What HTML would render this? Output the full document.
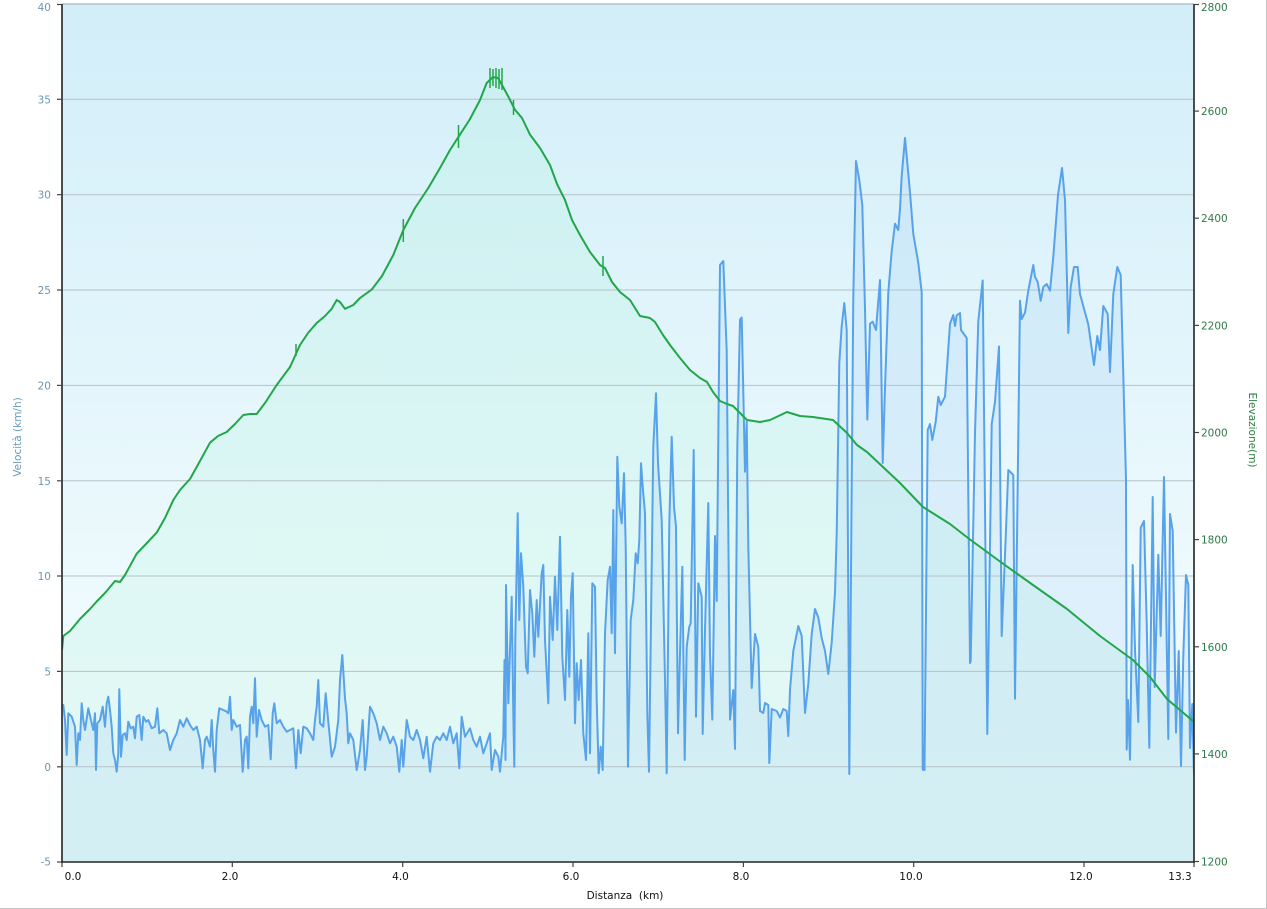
<!DOCTYPE html>
<html><head><meta charset="utf-8"><style>
html,body{margin:0;padding:0;background:#fff;}
svg{display:block;}
text{font-family:"DejaVu Sans","Liberation Sans",sans-serif;}
</style></head><body>
<svg width="1267" height="909" viewBox="0 0 1267 909" xmlns="http://www.w3.org/2000/svg">
<defs>
<linearGradient id="bg" x1="0" y1="0" x2="0" y2="1">
<stop offset="0" stop-color="#d2eef9"/>
<stop offset="0.7" stop-color="#eefafd"/>
<stop offset="1" stop-color="#f1fbfd"/>
</linearGradient>
<clipPath id="pc"><rect x="62" y="4" width="1132" height="858"/></clipPath>
</defs>
<rect x="0" y="0" width="1267" height="909" fill="#fff"/>
<rect x="62" y="4" width="1132" height="858" fill="url(#bg)"/>
<g clip-path="url(#pc)">
<!-- green fill -->
<polygon fill="rgba(150,240,200,0.15)" points="62,862 62,650 63.3,636 70,631 80,619 90,609 96.7,601.5 105,593 115,581 120,582 125,575 136.7,553.7 145,545 156.7,532.6 165,518 173.3,500 180,490 190,479 200,461 210,442.7 218,436 226.7,432 235,424 243.3,415 250,414 256.7,414 265,403 276.7,385 290,367 300,345 308,333 316.7,323 325,316 331.7,308.8 336.7,300 340,302 345,308.8 353.3,305 360,298 371.7,289.6 382,276 393.3,255 403.3,230 415,208 428.3,188 440,168 450,150 460,134.6 470,119 480,100 486.7,83 493,77 498,78 503,86.8 508,96 515,109.8 522,118 530,134.6 540,148 550,165 557,184 565,200 572,220 580,235 590,252 600,265 605,268 612,282 620,292 630,300 640,316 650,318 655,322 663,335 670,345 680,358 690,370 700,378 707,382 713,392 720,401 727,404 733,406 740,413 747,420 760,422 770,420 787,412 800,416 813,417 833,420 847,433 857,445 867,452 883,467 900,483 923,507 950,524 970,539.5 1000,561.5 1033,585 1067,609 1100,636 1133,660 1150,677 1167,699 1180,710 1194,722 1194,862"/>
<!-- blue fill -->
<polygon fill="rgba(91,163,234,0.11)" points="62,862 62,705 63.3,705 65,720 66.7,755 68.3,713.3 71.7,716.7 75,726.7 76.7,765 78.3,733.3 80,740 81.7,703.3 83.3,720 85,730 88.3,708.3 91.7,723.3 93.3,730 95,713.3 96,770 97.3,723.3 100,720 102.7,706.7 105,726.7 106.7,703.3 108.3,696.7 110,710 111.7,726.7 113.3,753.3 115,760 116.7,771.7 118.3,753.3 119.3,689.3 121,756.7 122.7,735 125,733.3 126.7,740 128.3,721.7 130.7,728.3 133.3,726.7 135,738.3 136.7,716.7 139.3,715 141.7,740 143.3,716.7 146,721.7 148.3,720 151.7,728.3 155,726.7 157.3,708.3 159.3,733.3 163.3,730 166.7,733.3 170,750 173.3,740 176.7,733.3 180,720 183.3,726.7 186.7,718.3 190,725 193.3,730 196.7,726.7 200,740 202.7,768.3 205,740 206.7,736.7 210,746.7 211.7,720 213.3,750 215,771.7 216.7,730 219.3,708.3 223.3,710 226.7,711.7 228.3,713.3 230,696.7 231.7,730 233.3,720 236.7,726.7 240,725 242.7,771.7 245,740 246.7,736.7 248.3,768.3 250,716.7 251.7,706.7 253.3,723.3 255,678.3 256.7,736.7 259,710 261.7,720 265,726.7 268.3,725 270.7,759.3 272.7,713.3 274.3,703.3 276.7,723.3 280,720 283.3,726.7 286.7,731.7 290,730 293.3,728.3 296,768.3 298.3,730 300.7,753.3 303.3,726.7 306.7,728.3 310,733.3 313.3,740 315,720 316.7,706.7 318.3,680 320,723.3 323.3,726.7 325.7,693.3 328.3,721.7 331.7,756.7 335,746.7 338.3,720 340,680 342.3,655 345,698.3 346.7,713.3 348.3,743.3 350,733.3 353.3,740 356.7,770 360,750 362.7,720 365,770 366.7,756.7 370,706.7 373.3,713.3 376.7,723.3 380,740 383.3,726.7 386.7,733.3 390,743.3 393.3,736.7 396.7,746.7 399.3,771.7 401.7,740 403.3,766.7 406.7,720 410,736.7 413.3,740 416.7,730 420,740 423.3,758.3 426.7,736.7 430,771.7 433.3,743.3 436.7,736.7 440,740 443.3,733.3 446.7,740 450,726.7 453.3,743.3 456.7,733.3 459.3,768.3 461.7,716.7 465,736.7 470,728.3 473.3,740 476.7,746.7 480,736.7 483.3,753.3 486.7,743.3 490,733.3 491.7,770 495,750 498.3,756.7 500,771.7 503.3,736.7 504.5,660 505.5,760 506,585 508.3,703.3 511.7,596.7 513.3,713.3 514.3,766.7 515.3,640 517.7,513.3 519.3,620 521,553.3 523.3,586.7 526,666.7 527.7,673.3 530,590 532.3,613.3 534.3,656.7 536.7,600 538.3,636.7 541.7,573.3 543.3,565 545,640 548.3,703.3 550,596.7 552.7,640 555,576.7 557.3,630 560,536.7 562.3,656.7 565,700 567.3,610 569.3,676.7 571,596.7 572.7,573.3 575,723.3 576.7,663.3 578.7,700 581,660 583.3,733.3 586,760 588.3,633.3 590,753.3 592.3,583.3 595,586.7 596.7,700 598.7,773.3 600.7,746.7 602.7,770 605,633.3 607.7,580 610,566.7 611.7,633.3 613.3,510 615,653.3 617.3,456.7 619.3,506.7 621.7,523.3 624,473.3 625.7,546.7 628,766.7 630.7,620 633.3,600 635.7,553.3 637.7,563.3 639.3,540 641,463.3 642.7,486.7 645,513.3 647.3,713.3 649,771.7 653.3,446.7 656,393.3 658,463.3 661.7,520 665,680 666.7,773.3 669.3,523.3 671.7,436.7 674,506.7 676,526.7 678,733.3 680,653.3 682.3,566.7 684.7,760 686.7,646.7 689.3,626.7 690.7,623.3 693.7,450 696,716.7 698.3,583.3 701.7,596.7 702.7,734 705,630 708.3,503 710,655 712.3,719.6 715,536 716.7,601 720,265 723.3,261 726.7,351 730,719.6 733.3,690 735,749 737.3,447 740,319.6 741.7,317.5 745,471.7 746.7,421.7 748.3,546.7 751.7,688 755,634 758.3,646.7 760,711 763.3,713 765,703 768.3,705 769.3,763 771.7,709 776.7,711 780,717.5 783.3,709 786.7,711 788.3,736 790,690 793.3,651 798.3,626 801.7,636 805,713 808.3,684 811.7,634 815,609 818.3,617.5 821.7,638 825,651 828.3,674 831.7,642.5 835,592.5 836.7,534 839.3,363 841.7,326 844.3,303 846.7,330 849.3,774 853.3,296.7 856,161 859.3,180 862.3,205 865,309 867.3,419.6 870,323.75 872.7,321.7 876,330 880,280 882.7,463 885,388 888.3,292.5 891.7,251 895,223.75 898.3,230 900,209 901.7,176 905,138 910,192.5 913.3,234 918.3,263 921.7,292.5 922.7,769.6 924.5,770 927.7,430 930,424 932.3,440 935.7,421.7 938.3,396.7 940.7,405 945,396.7 947.3,363 950,323.75 953.3,315 955,326 956.7,315.4 960,313 961,330 966.7,338 970,663 970.7,661 975,433 978.3,321 982.7,280.5 987.3,734 991.7,424 995,402 999,346.5 1001.7,636 1005,555 1008.3,470 1013.3,475 1015,698.7 1020,300.8 1021.7,319 1025,312.6 1028.3,290.6 1033.3,265 1035,277 1037.7,282 1040.7,300.8 1043.3,287 1046.7,284 1050,290.6 1053.3,256.8 1058,195 1062,168 1065,200 1068.3,333 1070.7,287 1074,267 1077.7,267 1080,294 1088.3,324.5 1094,365 1097.3,336 1100,350 1103.3,306 1107.7,314 1110,372 1113.3,294 1117.3,267 1120.7,275 1126,480 1126.7,749.5 1128,700 1130,759.7 1132.7,565 1135,649.6 1138.3,722 1140.7,527.7 1144,521 1146.7,622.5 1149.3,747.8 1152.7,497 1154.7,687 1158.3,554.8 1160.7,636 1164,477 1168.3,739 1170,514 1172.7,531 1176,732.6 1178.7,651 1181,766 1183.3,656 1186,575 1188.3,585 1190,748 1192.3,704 1194,775 1194,862"/>
<!-- gridlines -->
<g stroke="#b5c3c6" stroke-width="1">
<line x1="62" y1="99.3" x2="1194" y2="99.3"/>
<line x1="62" y1="194.7" x2="1194" y2="194.7"/>
<line x1="62" y1="290" x2="1194" y2="290"/>
<line x1="62" y1="385.4" x2="1194" y2="385.4"/>
<line x1="62" y1="480.8" x2="1194" y2="480.8"/>
<line x1="62" y1="576" x2="1194" y2="576"/>
<line x1="62" y1="671.4" x2="1194" y2="671.4"/>
<line x1="62" y1="766.8" x2="1194" y2="766.8"/>
</g>
<!-- blue line -->
<polyline fill="none" stroke="#58a2ea" stroke-width="2" stroke-linejoin="round" points="62,705 63.3,705 65,720 66.7,755 68.3,713.3 71.7,716.7 75,726.7 76.7,765 78.3,733.3 80,740 81.7,703.3 83.3,720 85,730 88.3,708.3 91.7,723.3 93.3,730 95,713.3 96,770 97.3,723.3 100,720 102.7,706.7 105,726.7 106.7,703.3 108.3,696.7 110,710 111.7,726.7 113.3,753.3 115,760 116.7,771.7 118.3,753.3 119.3,689.3 121,756.7 122.7,735 125,733.3 126.7,740 128.3,721.7 130.7,728.3 133.3,726.7 135,738.3 136.7,716.7 139.3,715 141.7,740 143.3,716.7 146,721.7 148.3,720 151.7,728.3 155,726.7 157.3,708.3 159.3,733.3 163.3,730 166.7,733.3 170,750 173.3,740 176.7,733.3 180,720 183.3,726.7 186.7,718.3 190,725 193.3,730 196.7,726.7 200,740 202.7,768.3 205,740 206.7,736.7 210,746.7 211.7,720 213.3,750 215,771.7 216.7,730 219.3,708.3 223.3,710 226.7,711.7 228.3,713.3 230,696.7 231.7,730 233.3,720 236.7,726.7 240,725 242.7,771.7 245,740 246.7,736.7 248.3,768.3 250,716.7 251.7,706.7 253.3,723.3 255,678.3 256.7,736.7 259,710 261.7,720 265,726.7 268.3,725 270.7,759.3 272.7,713.3 274.3,703.3 276.7,723.3 280,720 283.3,726.7 286.7,731.7 290,730 293.3,728.3 296,768.3 298.3,730 300.7,753.3 303.3,726.7 306.7,728.3 310,733.3 313.3,740 315,720 316.7,706.7 318.3,680 320,723.3 323.3,726.7 325.7,693.3 328.3,721.7 331.7,756.7 335,746.7 338.3,720 340,680 342.3,655 345,698.3 346.7,713.3 348.3,743.3 350,733.3 353.3,740 356.7,770 360,750 362.7,720 365,770 366.7,756.7 370,706.7 373.3,713.3 376.7,723.3 380,740 383.3,726.7 386.7,733.3 390,743.3 393.3,736.7 396.7,746.7 399.3,771.7 401.7,740 403.3,766.7 406.7,720 410,736.7 413.3,740 416.7,730 420,740 423.3,758.3 426.7,736.7 430,771.7 433.3,743.3 436.7,736.7 440,740 443.3,733.3 446.7,740 450,726.7 453.3,743.3 456.7,733.3 459.3,768.3 461.7,716.7 465,736.7 470,728.3 473.3,740 476.7,746.7 480,736.7 483.3,753.3 486.7,743.3 490,733.3 491.7,770 495,750 498.3,756.7 500,771.7 503.3,736.7 504.5,660 505.5,760 506,585 508.3,703.3 511.7,596.7 513.3,713.3 514.3,766.7 515.3,640 517.7,513.3 519.3,620 521,553.3 523.3,586.7 526,666.7 527.7,673.3 530,590 532.3,613.3 534.3,656.7 536.7,600 538.3,636.7 541.7,573.3 543.3,565 545,640 548.3,703.3 550,596.7 552.7,640 555,576.7 557.3,630 560,536.7 562.3,656.7 565,700 567.3,610 569.3,676.7 571,596.7 572.7,573.3 575,723.3 576.7,663.3 578.7,700 581,660 583.3,733.3 586,760 588.3,633.3 590,753.3 592.3,583.3 595,586.7 596.7,700 598.7,773.3 600.7,746.7 602.7,770 605,633.3 607.7,580 610,566.7 611.7,633.3 613.3,510 615,653.3 617.3,456.7 619.3,506.7 621.7,523.3 624,473.3 625.7,546.7 628,766.7 630.7,620 633.3,600 635.7,553.3 637.7,563.3 639.3,540 641,463.3 642.7,486.7 645,513.3 647.3,713.3 649,771.7 653.3,446.7 656,393.3 658,463.3 661.7,520 665,680 666.7,773.3 669.3,523.3 671.7,436.7 674,506.7 676,526.7 678,733.3 680,653.3 682.3,566.7 684.7,760 686.7,646.7 689.3,626.7 690.7,623.3 693.7,450 696,716.7 698.3,583.3 701.7,596.7 702.7,734 705,630 708.3,503 710,655 712.3,719.6 715,536 716.7,601 720,265 723.3,261 726.7,351 730,719.6 733.3,690 735,749 737.3,447 740,319.6 741.7,317.5 745,471.7 746.7,421.7 748.3,546.7 751.7,688 755,634 758.3,646.7 760,711 763.3,713 765,703 768.3,705 769.3,763 771.7,709 776.7,711 780,717.5 783.3,709 786.7,711 788.3,736 790,690 793.3,651 798.3,626 801.7,636 805,713 808.3,684 811.7,634 815,609 818.3,617.5 821.7,638 825,651 828.3,674 831.7,642.5 835,592.5 836.7,534 839.3,363 841.7,326 844.3,303 846.7,330 849.3,774 853.3,296.7 856,161 859.3,180 862.3,205 865,309 867.3,419.6 870,323.75 872.7,321.7 876,330 880,280 882.7,463 885,388 888.3,292.5 891.7,251 895,223.75 898.3,230 900,209 901.7,176 905,138 910,192.5 913.3,234 918.3,263 921.7,292.5 922.7,769.6 924.5,770 927.7,430 930,424 932.3,440 935.7,421.7 938.3,396.7 940.7,405 945,396.7 947.3,363 950,323.75 953.3,315 955,326 956.7,315.4 960,313 961,330 966.7,338 970,663 970.7,661 975,433 978.3,321 982.7,280.5 987.3,734 991.7,424 995,402 999,346.5 1001.7,636 1005,555 1008.3,470 1013.3,475 1015,698.7 1020,300.8 1021.7,319 1025,312.6 1028.3,290.6 1033.3,265 1035,277 1037.7,282 1040.7,300.8 1043.3,287 1046.7,284 1050,290.6 1053.3,256.8 1058,195 1062,168 1065,200 1068.3,333 1070.7,287 1074,267 1077.7,267 1080,294 1088.3,324.5 1094,365 1097.3,336 1100,350 1103.3,306 1107.7,314 1110,372 1113.3,294 1117.3,267 1120.7,275 1126,480 1126.7,749.5 1128,700 1130,759.7 1132.7,565 1135,649.6 1138.3,722 1140.7,527.7 1144,521 1146.7,622.5 1149.3,747.8 1152.7,497 1154.7,687 1158.3,554.8 1160.7,636 1164,477 1168.3,739 1170,514 1172.7,531 1176,732.6 1178.7,651 1181,766 1183.3,656 1186,575 1188.3,585 1190,748 1192.3,704 1194,775"/>
<!-- green line -->
<polyline fill="none" stroke="#22a64a" stroke-width="2" stroke-linejoin="round" points="62,650 63.3,636 70,631 80,619 90,609 96.7,601.5 105,593 115,581 120,582 125,575 136.7,553.7 145,545 156.7,532.6 165,518 173.3,500 180,490 190,479 200,461 210,442.7 218,436 226.7,432 235,424 243.3,415 250,414 256.7,414 265,403 276.7,385 290,367 300,345 308,333 316.7,323 325,316 331.7,308.8 336.7,300 340,302 345,308.8 353.3,305 360,298 371.7,289.6 382,276 393.3,255 403.3,230 415,208 428.3,188 440,168 450,150 460,134.6 470,119 480,100 486.7,83 493,77 498,78 503,86.8 508,96 515,109.8 522,118 530,134.6 540,148 550,165 557,184 565,200 572,220 580,235 590,252 600,265 605,268 612,282 620,292 630,300 640,316 650,318 655,322 663,335 670,345 680,358 690,370 700,378 707,382 713,392 720,401 727,404 733,406 740,413 747,420 760,422 770,420 787,412 800,416 813,417 833,420 847,433 857,445 867,452 883,467 900,483 923,507 950,524 970,539.5 1000,561.5 1033,585 1067,609 1100,636 1133,660 1150,677 1167,699 1180,710 1194,722"/>
<g stroke="#22a64a" stroke-width="1.5">
<line x1="403.3" y1="219" x2="403.3" y2="242"/>
<line x1="458.5" y1="125" x2="458.5" y2="148"/>
<line x1="490" y1="68" x2="490" y2="88"/>
<line x1="493" y1="69" x2="493" y2="86"/>
<line x1="496" y1="68" x2="496" y2="88"/>
<line x1="499" y1="69" x2="499" y2="89"/>
<line x1="502" y1="68" x2="502" y2="90"/>
<line x1="513.5" y1="100" x2="513.5" y2="115"/>
<line x1="603" y1="256" x2="603" y2="276"/>
<line x1="296" y1="344" x2="296" y2="356"/>
</g>
</g>
<!-- axes -->
<line x1="62" y1="4" x2="1194" y2="4" stroke="#a9b9c0" stroke-width="1.2"/>
<g stroke="#222" stroke-width="1.6">
<line x1="62" y1="4" x2="62" y2="863"/>
<line x1="1194" y1="4" x2="1194" y2="863"/>
<line x1="61" y1="862" x2="1195" y2="862"/>
</g>
<g stroke="#444" stroke-width="1.2">
<line x1="57" y1="4.5" x2="62" y2="4.5"/><line x1="57" y1="99.3" x2="62" y2="99.3"/><line x1="57" y1="194.7" x2="62" y2="194.7"/><line x1="57" y1="290" x2="62" y2="290"/><line x1="57" y1="385.4" x2="62" y2="385.4"/><line x1="57" y1="480.8" x2="62" y2="480.8"/><line x1="57" y1="576" x2="62" y2="576"/><line x1="57" y1="671.4" x2="62" y2="671.4"/><line x1="57" y1="766.8" x2="62" y2="766.8"/><line x1="57" y1="862" x2="62" y2="862"/>
<line x1="1194" y1="4.5" x2="1199" y2="4.5"/><line x1="1194" y1="111.1" x2="1199" y2="111.1"/><line x1="1194" y1="218.2" x2="1199" y2="218.2"/><line x1="1194" y1="325.4" x2="1199" y2="325.4"/><line x1="1194" y1="432.5" x2="1199" y2="432.5"/><line x1="1194" y1="539.6" x2="1199" y2="539.6"/><line x1="1194" y1="646.8" x2="1199" y2="646.8"/><line x1="1194" y1="753.9" x2="1199" y2="753.9"/><line x1="1194" y1="861.5" x2="1199" y2="861.5"/>
<line x1="62" y1="862" x2="62" y2="867"/><line x1="232.3" y1="862" x2="232.3" y2="867"/><line x1="402.7" y1="862" x2="402.7" y2="867"/><line x1="573" y1="862" x2="573" y2="867"/><line x1="743.4" y1="862" x2="743.4" y2="867"/><line x1="913.7" y1="862" x2="913.7" y2="867"/><line x1="1084" y1="862" x2="1084" y2="867"/><line x1="1194" y1="862" x2="1194" y2="867"/>
</g>
<!-- left labels -->
<g fill="#6b96b4" font-size="10.5" text-anchor="end">
<text x="51" y="11">40</text>
<text x="51" y="103.3">35</text>
<text x="51" y="198.7">30</text>
<text x="51" y="294">25</text>
<text x="51" y="389.4">20</text>
<text x="51" y="484.8">15</text>
<text x="51" y="580">10</text>
<text x="51" y="675.4">5</text>
<text x="51" y="770.8">0</text>
<text x="51" y="865.5">-5</text>
</g>
<!-- right labels -->
<g fill="#2f7a48" font-size="10.5">
<text x="1201" y="11">2800</text>
<text x="1201" y="115">2600</text>
<text x="1201" y="222.2">2400</text>
<text x="1201" y="329.4">2200</text>
<text x="1201" y="436.5">2000</text>
<text x="1201" y="543.6">1800</text>
<text x="1201" y="650.8">1600</text>
<text x="1201" y="757.9">1400</text>
<text x="1201" y="865.5">1200</text>
</g>
<!-- bottom labels -->
<g fill="#111" font-size="10.5" text-anchor="middle">
<text x="73" y="880">0.0</text>
<text x="230" y="880">2.0</text>
<text x="400.5" y="880">4.0</text>
<text x="571" y="880">6.0</text>
<text x="741" y="880">8.0</text>
<text x="911" y="880">10.0</text>
<text x="1081" y="880">12.0</text>
<text x="1180" y="880">13.3</text>
</g>
<text x="625" y="899" font-size="10.5" fill="#111" text-anchor="middle" xml:space="preserve">Distanza  (km)</text>
<text transform="translate(21,437) rotate(-90)" font-size="10.5" fill="#6b9ab8" text-anchor="middle">Velocità (km/h)</text>
<text transform="translate(1249,430) rotate(90)" font-size="10.5" fill="#2e7d46" text-anchor="middle">Elevazione(m)</text>
<!-- outer border -->
<line x1="0" y1="908.5" x2="1267" y2="908.5" stroke="#c4c4c4" stroke-width="1"/>
<line x1="1266.5" y1="0" x2="1266.5" y2="909" stroke="#c4c4c4" stroke-width="1"/>
</svg>
</body></html>
